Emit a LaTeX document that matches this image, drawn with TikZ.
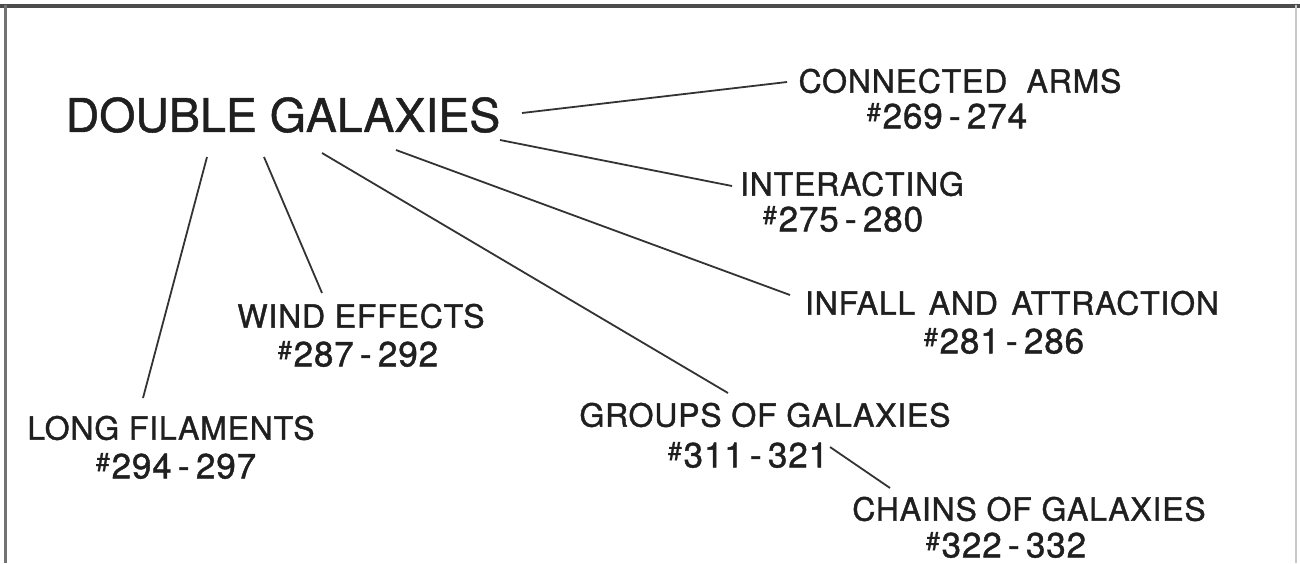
\documentclass[tikz,border=0pt]{standalone}
\usepackage{fontspec}
\setmainfont{TeX Gyre Heros}
\newfontfamily\lettering[FakeBold=1.2, LetterSpace=2.5]{TeX Gyre Heros}
\newfontfamily\titlefont[FakeBold=1.0]{TeX Gyre Heros}
\newcommand\hsh{\raisebox{0.22em}{\scalebox{0.72}{\#}}\hspace{0.05em}}
\newcommand\dsh{\hspace{0.18em}-\hspace{0.18em}}
\tikzset{
  title/.style={inner sep=0pt, text=black!88, font=\titlefont\fontsize{46.5}{50}\selectfont},
  lbl/.style={inner sep=0pt, text=black!88, font=\lettering\fontsize{32}{36}\selectfont},
  num/.style={inner sep=0pt, text=black!88, font=\lettering\fontsize{35}{38}\selectfont},
  conn/.style={line width=1.8pt, draw=black!80},
  frame/.style={draw=black!70}
}
\begin{document}
\begin{tikzpicture}[x=1pt,y=-1pt]
\useasboundingbox (0,0) rectangle (1300,563);
\draw[frame, line width=4pt] (0,6) -- (1300,6);
\draw[frame, line width=3pt, draw=black!55] (5,5) -- (5,563);
\draw[frame, line width=2pt, draw=black!22] (1296,5) -- (1296,563);

\node[title] (dg) at (283,115) {DOUBLE GALAXIES};

\node[lbl] (ca) at (960,81) {CONNECTED\hspace{0.3em} ARMS};
\node[num] (can) at (947,116) {\hsh269\dsh274};
\node[lbl] (it) at (852,184) {INTERACTING};
\node[num] (itn) at (843,219) {\hsh275\dsh280};
\node[lbl] (ia) at (1012,303) {INFALL\hspace{0.12em} AND\hspace{0.12em} ATTRACTION};
\node[num] (ian) at (1004,341) {\hsh281\dsh286};
\node[lbl] (we) at (361,316) {WIND EFFECTS};
\node[num] (wen) at (358,354) {\hsh287\dsh292};
\node[lbl] (lf) at (171,428) {LONG FILAMENTS};
\node[num] (lfn) at (176,466) {\hsh294\dsh297};
\node[lbl] (gg) at (765,415) {GROUPS OF GALAXIES};
\node[num] (ggn) at (748,455) {\hsh311\dsh321};
\node[lbl] (cg) at (1029,509) {CHAINS OF GALAXIES};
\node[num] (cgn) at (1006,545) {\hsh322\dsh332};

\coordinate (a1) at (522,113); \coordinate (b1) at (787,82);
\coordinate (a2) at (500,140); \coordinate (b2) at (732,186);
\coordinate (a3) at (396,150); \coordinate (b3) at (790,295);
\coordinate (a4) at (322,153); \coordinate (b4) at (728,393);
\coordinate (a5) at (264,157); \coordinate (b5) at (322,293);
\coordinate (a6) at (207,157); \coordinate (b6) at (143,398);
\coordinate (a7) at (830,447); \coordinate (b7) at (890,488);

\draw[conn] (a1) -- (b1);
\draw[conn] (a2) -- (b2);
\draw[conn] (a3) -- (b3);
\draw[conn] (a4) -- (b4);
\draw[conn] (a5) -- (b5);
\draw[conn] (a6) -- (b6);
\draw[conn] (a7) -- (b7);
\end{tikzpicture}
\end{document}
